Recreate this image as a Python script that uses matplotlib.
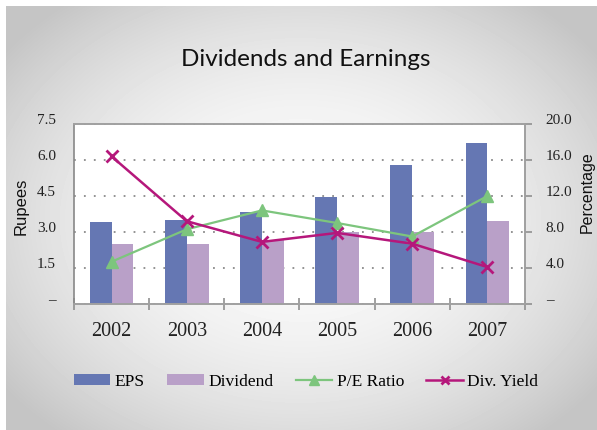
import numpy as np
import matplotlib
matplotlib.use('Agg')
import matplotlib.pyplot as plt
from matplotlib.transforms import ScaledTranslation

years = ['2002', '2003', '2004', '2005', '2006', '2007']
eps = [3.42, 3.5, 3.83, 4.46, 5.79, 6.7]
dividend = [2.5, 2.5, 2.67, 3.0, 3.0, 3.46]
pe_ratio = [4.7, 8.3, 10.4, 9.0, 7.5, 12.0]
div_yield = [16.4, 9.2, 6.9, 7.9, 6.7, 4.1]

left_ticks = [0, 1.5, 3.0, 4.5, 6.0, 7.5]
right_ticks = [0, 4, 8, 12, 16, 20]

W, H = 597, 430
fig = plt.figure(figsize=(W / 100, H / 100), dpi=100)
fig.patch.set_facecolor('white')

# background gradient panel
bg = fig.add_axes([0, 0, 1, 1], zorder=-10)
bg.set_xlim(0, W)
bg.set_ylim(H, 0)
bg.axis('off')
xx, yy = np.meshgrid(np.arange(6, W), np.arange(6, H))
r = np.sqrt(((xx - 300) / 330.0) ** 2 + ((yy - 220) / 250.0) ** 2)
shade = np.clip(0.985 - 0.17 * r ** 2, 0.77, 1.0)
bg.imshow(shade, cmap='gray', vmin=0, vmax=1, extent=(6, W, H, 6),
          interpolation='bilinear', aspect='auto')

ax = fig.add_axes([74 / W, 1 - 304 / H, 451 / W, 180 / H])
ax.set_facecolor('white')
x = np.arange(len(years))
bw = 0.29
ax.bar(x - bw / 2, eps, bw, color='#6577B3', label='EPS', zorder=2)
ax.bar(x + bw / 2, dividend, bw, color='#B9A0C8', label='Dividend', zorder=2)
ax.set_xlim(-0.5, 5.5)
ax.set_ylim(0, 7.5)
ax.set_axisbelow(True)
ax.yaxis.grid(True, linestyle=(0, (1, 4.5)), color='#8a8a8a', linewidth=1.3)

serif = 'Liberation Serif'
ax.set_yticks(left_ticks)
ax.set_yticklabels(['–' if v == 0 else '%.1f' % v for v in left_ticks],
                   family=serif, fontsize=11, color='#222222')
ax.tick_params(axis='y', length=0, pad=13)
ax.set_yticks([0, 7.5], minor=True)
ax.tick_params(axis='y', which='minor', length=4.5, color='#909090', width=1.2)

ax.set_xticks(x)
ax.set_xticklabels(years, family=serif, fontsize=14.5, color='#222222')
ax.tick_params(axis='x', length=0, pad=13)
ax.set_xticks(np.arange(-0.5, 6, 1), minor=True)
ax.tick_params(axis='x', which='minor', direction='inout', length=8,
               color='#909090', width=1.2)

for s in ax.spines.values():
    s.set_color('#a0a0a0')
    s.set_linewidth(1.2)
ax.spines['left'].set_color('#888888')

ax2 = ax.twinx()
ax2.plot(x, pe_ratio, color='#7DC57D', linewidth=1.6, marker='^',
         markersize=8.5, label='P/E Ratio', zorder=3)
ax2.plot(x, div_yield, color='#B5177B', linewidth=1.8, marker='x',
         markersize=8, markeredgewidth=2, label='Div. Yield', zorder=4)
ax2.set_ylim(0, 20)
ax2.set_yticks(right_ticks)
ax2.set_yticklabels(['–' if v == 0 else '%.1f' % v for v in right_ticks],
                    family=serif, fontsize=11, color='#222222')
ax2.tick_params(axis='y', direction='out', length=5, color='#909090',
                width=1.2, pad=10)
for s in ax2.spines.values():
    s.set_color('#a0a0a0')
    s.set_linewidth(1.2)
ax2.spines['left'].set_visible(False)

# tick labels sit a bit above their ticks in the original
up = ScaledTranslation(0, 0.05, fig.dpi_scale_trans)
for lab in ax.get_yticklabels() + ax2.get_yticklabels():
    lab.set_transform(lab.get_transform() + up)

fig.text(306 / W, 1 - 60 / H, 'Dividends and Earnings', ha='center',
         va='center', family='Lato', fontsize=17.5, color='#111111')
fig.text(21 / W, 1 - 206 / H, 'Rupees', rotation=90, ha='center',
         va='center', family='Liberation Sans', fontsize=12, color='#111111')
fig.text(587 / W, 1 - 192 / H, 'Percentage', rotation=90, ha='center',
         va='center', family='Liberation Sans', fontsize=11.5, color='#111111')

h1, l1 = ax.get_legend_handles_labels()
h2, l2 = ax2.get_legend_handles_labels()
fig.legend(h1 + h2, l1 + l2, loc='center', bbox_to_anchor=(306 / W, 1 - 382 / H),
           ncol=4, frameon=False, prop={'family': serif, 'size': 12.5},
           handlelength=2.1, handleheight=0.6, handletextpad=0.25,
           columnspacing=1.3, markerscale=0.8)

fig.savefig('out.png', dpi=100)
